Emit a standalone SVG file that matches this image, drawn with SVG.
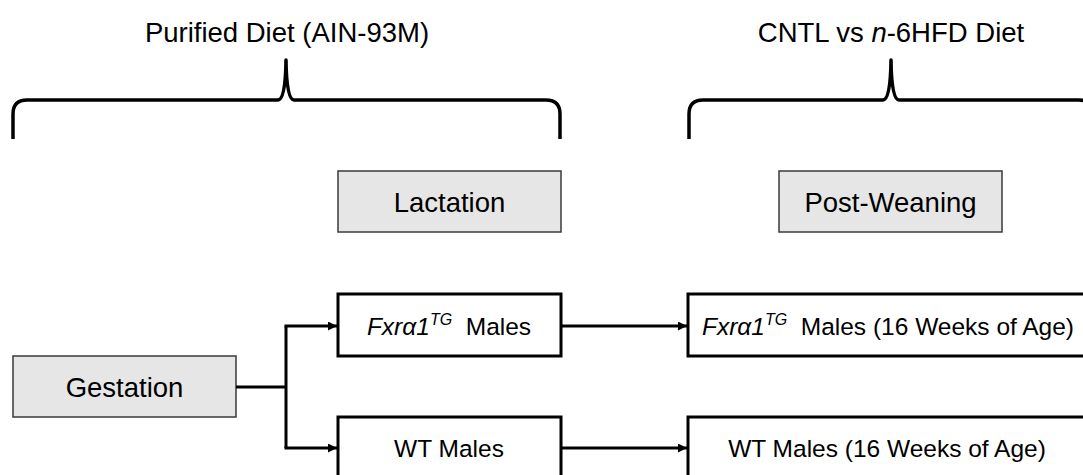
<svg xmlns="http://www.w3.org/2000/svg" width="1083" height="475" viewBox="0 0 1083 475">
<style>
text{font-family:"Liberation Sans",Arial,sans-serif;fill:#000;text-anchor:middle}
.t{font-size:27.5px}
.s{font-size:24.5px}
.grey{fill:#e6e6e6;stroke:#3a3a3a;stroke-width:1.5}
.white{fill:#fff;stroke:#000;stroke-width:3}
.brace{fill:none;stroke:#000;stroke-width:3.5;stroke-linejoin:round;stroke-linecap:butt}
.conn{fill:none;stroke:#000;stroke-width:3}
.i{font-style:italic}
</style>
<defs>
<marker id="ah" viewBox="0 0 10 10" refX="10" refY="5" markerWidth="10" markerHeight="9" markerUnits="userSpaceOnUse" orient="auto">
<path d="M0,0 L10,5 L0,10 z" fill="#000"/>
</marker>
</defs>
<g id="title-purified">
<text class="t" x="287" y="42">Purified Diet (AIN-93M)</text>
<path class="brace" d="M13,139 L13,114 Q13,100 27,100 L278,100 Q285.5,100 286,60 Q286.5,100 294,100 L546,100 Q560,100 560,114 L560,139"/>
</g>
<g id="title-cntl">
<text class="t" x="891" y="42">CNTL vs <tspan class="i">n</tspan>-6HFD Diet</text>
<path class="brace" d="M689,139 L689,114 Q689,100 703,100 L883,100 Q890.5,100 891,60 Q891.5,100 899,100 L1079,100 Q1093,100 1093,114 L1093,139"/>
</g>
<g id="lactation">
<rect class="grey" x="338" y="171" width="223" height="61"/>
<text class="t" x="449.5" y="212">Lactation</text>
</g>
<g id="postweaning">
<rect class="grey" x="779" y="171" width="223" height="61"/>
<text class="t" x="890.5" y="212">Post-Weaning</text>
</g>
<g id="gestation">
<rect class="grey" x="13" y="356" width="223" height="61"/>
<text class="t" x="124.5" y="397">Gestation</text>
</g>
<g id="fxr-males">
<rect class="white" x="338" y="294" width="223" height="62"/>
<text class="s" x="449" y="335" xml:space="preserve"><tspan class="i">Fxrα1</tspan><tspan class="i" font-size="16" dy="-10">TG</tspan><tspan dy="10">  Males</tspan></text>
</g>
<g id="wt-males">
<rect class="white" x="338" y="417" width="223" height="62"/>
<text class="s" x="449" y="457">WT Males</text>
</g>
<g id="fxr-males-16">
<rect class="white" x="688" y="294" width="400" height="62"/>
<text class="s" x="888" y="335" xml:space="preserve"><tspan class="i">Fxrα1</tspan><tspan class="i" font-size="16" dy="-10">TG</tspan><tspan dy="10">  Males (16 Weeks of Age)</tspan></text>
</g>
<g id="wt-males-16">
<rect class="white" x="688" y="417" width="400" height="62"/>
<text class="s" x="887" y="457">WT Males (16 Weeks of Age)</text>
</g>
<g id="connectors">
<path class="conn" d="M236,387 L286,387"/>
<path class="conn" d="M286,326 L286,448"/>
<path class="conn" d="M284.5,326 L337,326" marker-end="url(#ah)"/>
<path class="conn" d="M284.5,448 L337,448" marker-end="url(#ah)"/>
<path class="conn" d="M561,326 L687,326" marker-end="url(#ah)"/>
<path class="conn" d="M561,448 L687,448" marker-end="url(#ah)"/>
</g>
</svg>
